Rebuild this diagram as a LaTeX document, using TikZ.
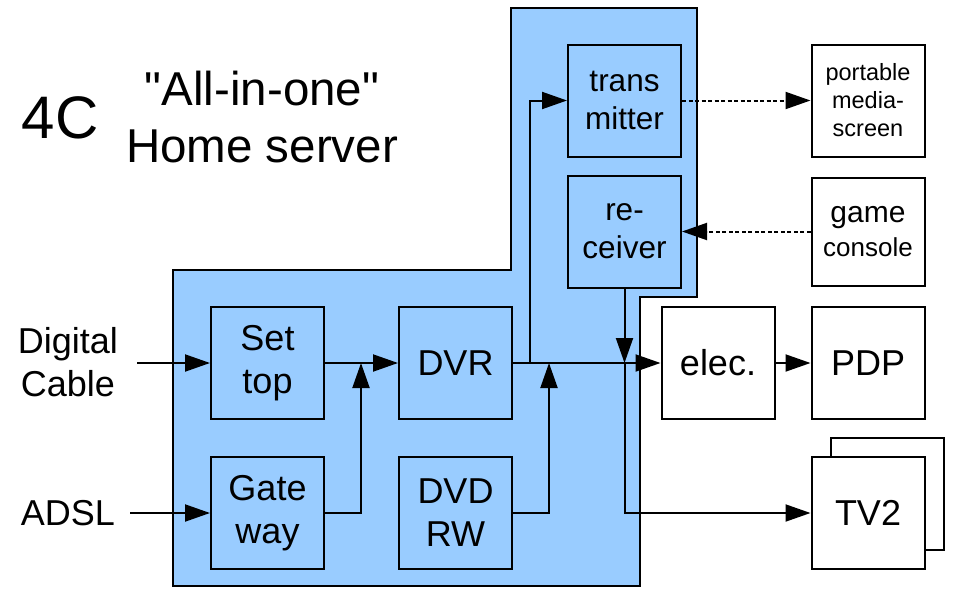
\documentclass[tikz,border=0pt]{standalone}
\usepackage{fontspec}
\newfontfamily\lsf{Liberation Sans}
\usetikzlibrary{arrows.meta}
\definecolor{srvblue}{RGB}{153,204,255}
\tikzset{
  box/.style={draw=black, line width=2pt, minimum width=113pt, minimum height=112pt,
    inner sep=0pt, align=center, font=\lsf\fontsize{36}{43}\selectfont},
  bluebox/.style={box, fill=srvblue},
  whitebox/.style={box, fill=white},
  arr/.style={line width=2pt, -{Triangle[length=25pt,width=17pt]}},
  dotarr/.style={arr, dash pattern=on 4pt off 2.5pt},
  lbl/.style={inner sep=0pt, align=center, font=\lsf\fontsize{36}{43}\selectfont},
}
\begin{document}
\begin{tikzpicture}[x=1pt,y=-1pt]
\useasboundingbox (0,0) rectangle (955,589);
% server outline
\draw[fill=srvblue, line width=2pt] (173,270) -- (511,270) -- (511,8) -- (697,8)
  -- (697,297) -- (640,297) -- (640,586) -- (173,586) -- cycle;
% titles
\node[inner sep=0pt, font=\lsf\fontsize{60}{70}\selectfont] (t4c) at (60,118) {4C};
\node[inner sep=0pt, align=center, font=\lsf\fontsize{47.5}{57}\selectfont] (ttl) at (262,117) {"All-in-one"\\Home server};
% inputs
\node[lbl] (dc) at (68,362) {Digital\\Cable};
\node[lbl] (adsl) at (68,513) {ADSL};
\coordinate (dcin) at (137,363);
\coordinate (adin) at (130,513);
% inner boxes
\node[bluebox] (settop) at (267.5,363) {Set\\top};
\node[bluebox] (gw) at (267.5,513) {Gate\\way};
\node[bluebox] (dvr) at (455.5,363) {DVR};
\node[bluebox] (dvd) at (455.5,513) {DVD\\RW};
\node[bluebox, font=\lsf\fontsize{31.5}{38}\selectfont] (trans) at (624.5,100.5) {trans\\mitter};
\node[bluebox, font=\lsf\fontsize{31.5}{38}\selectfont] (rec) at (624.5,231.5) {re-\\ceiver};
% outside boxes
\node[whitebox, font=\lsf\fontsize{23.5}{28}\selectfont] (port) at (868,100.5) {portable\\media-\\screen};
\node[whitebox, minimum height=108pt, font=\lsf\fontsize{26}{34}\selectfont] (game) at (868,231.5) {{\fontsize{30}{34}\selectfont game}\\console};
\node[whitebox] (elec) at (718,363) {elec.};
\node[whitebox] (pdp) at (868,363) {PDP};
\node[whitebox] (tv2b) at (887,494) {};
\node[whitebox] (tv2) at (868,513) {TV2};
% junctions
\coordinate (j1) at (361,363);
\coordinate (j2) at (530,363);
\coordinate (j3) at (549,363);
\coordinate (j4) at (rec.south |- dvr.east);
% connectors
\draw[arr] (dcin) -- (settop.west);
\draw[arr] (adin) -- (gw.west);
\draw[arr] (settop.east) -- (dvr.west);
\draw[arr] (gw.east) -| (j1);
\draw[arr] (dvr.east) -- (elec.west);
\draw[arr] (j2) |- (trans.west);
\draw[arr] (dvd.east) -| (j3);
\draw[arr] (rec.south) -- (j4);
\draw[arr] (j4) |- (tv2.west);
\draw[dotarr] (trans.east) -- (port.west);
\draw[dotarr] (game.west) -- (rec.east);
\draw[arr] (elec.east) -- (pdp.west);
\end{tikzpicture}
\end{document}
